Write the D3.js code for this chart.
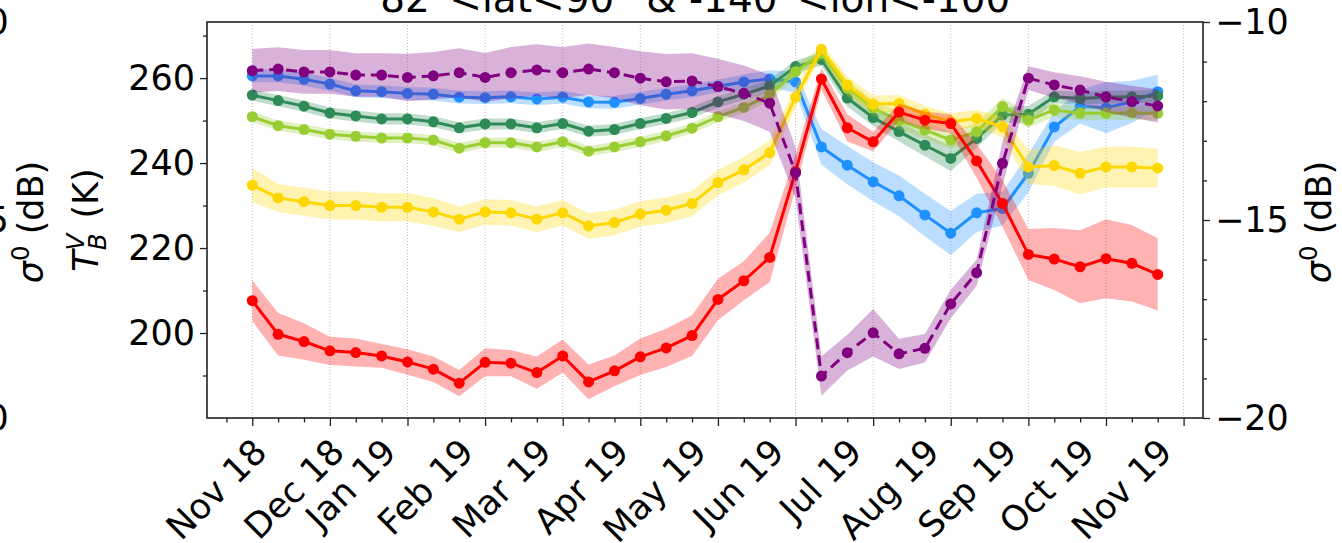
<!DOCTYPE html>
<html>
<head>
<meta charset="utf-8">
<script src="https://cdn.jsdelivr.net/npm/d3@7"></script>
<style>
  html, body { margin: 0; padding: 0; background: #fff; overflow: hidden; }
  svg { display: block; font-family: "DejaVu Sans", sans-serif; }
</style>
</head>
<body>
<svg id="chart" width="1342" height="543"></svg>
<script>
// ---- data: dekadal means (1st, 11th, 21st of each month), Nov 2018 - Oct 2019 ----
// time is measured in months since 1 Nov 2018
const dekadT = d3.range(36).map(i => i / 3);

const monthLabels = ["Nov 18", "Dec 18", "Jan 19", "Feb 19", "Mar 19", "Apr 19", "May 19",
                     "Jun 19", "Jul 19", "Aug 19", "Sep 19", "Oct 19", "Nov 19"];
const monthTicks = d3.range(13);
const labelAt = [1 / 3, 4 / 3, 2, 3, 4, 5, 6, 7, 8, 9, 10, 11, 12];

const tbTicks = [200, 220, 240, 260];
const tbMinor = [190, 210, 230, 250, 270];
const sigTicks = [-20, -15, -10];
const sigMinor = [-19, -18, -17, -16, -14, -13, -12, -11];

// brightness temperatures T_B^V (K)
const tbBlue = [260.5, 260.5, 259.7, 258.6, 257.0, 256.8, 256.4, 256.2, 255.5, 255.4, 255.6, 255.1,
                255.5, 254.4, 254.3, 255.2, 256.2, 257.0, 258.1, 259.1, 259.8, 259.1, 243.8, 239.5,
                235.6, 232.3, 227.8, 223.5, 228.3, 229.3, 237.6, 248.5, 253.3, 253.0, 254.4, 256.8];
const tbBlueSd = [1.5, 1.5, 1.5, 1.5, 1.5, 1.5, 1.5, 1.5, 1.5, 1.5, 1.5, 1.5,
                  1.5, 1.5, 1.5, 1.5, 1.5, 1.5, 1.5, 1.8, 2.0, 2.5, 4.2, 4.5,
                  4.6, 4.8, 5.0, 5.2, 4.5, 4.0, 4.5, 3.5, 4.0, 6.0, 5.0, 4.0];

const tbSea = [256.0, 254.7, 253.4, 251.8, 251.1, 250.4, 250.4, 249.7, 248.3, 249.2, 249.2, 248.3,
               249.3, 247.5, 247.9, 249.3, 250.5, 251.9, 254.4, 256.2, 258.1, 262.7, 264.4, 255.3,
               250.7, 247.4, 244.2, 241.1, 245.8, 251.3, 251.5, 255.6, 255.2, 255.5, 255.6, 255.8];
const tbSeaSd = [1.3, 1.3, 1.3, 1.3, 1.3, 1.3, 1.3, 1.3, 1.3, 1.3, 1.3, 1.3,
                 1.3, 1.3, 1.3, 1.3, 1.3, 1.3, 1.4, 1.4, 1.5, 1.5, 1.5, 2.0,
                 2.0, 2.3, 2.6, 3.0, 2.2, 1.8, 2.0, 1.5, 1.5, 1.5, 1.5, 1.5];

const tbLime = [250.9, 248.8, 247.9, 246.8, 246.3, 245.9, 245.9, 245.4, 243.5, 244.8, 244.8, 243.8,
                245.0, 242.8, 243.8, 245.0, 246.4, 248.2, 250.9, 253.1, 256.0, 261.5, 265.8, 257.6,
                253.0, 250.0, 247.8, 245.4, 247.4, 253.3, 250.1, 252.5, 251.7, 251.7, 251.8, 251.7];
const tbLimeSd = [1.2, 1.2, 1.2, 1.2, 1.2, 1.2, 1.2, 1.2, 1.2, 1.2, 1.2, 1.2,
                  1.2, 1.2, 1.2, 1.2, 1.2, 1.2, 1.3, 1.3, 1.4, 1.5, 1.5, 1.8,
                  1.8, 2.0, 2.0, 2.0, 2.0, 2.0, 1.8, 1.6, 1.6, 1.6, 1.6, 1.6];

const tbGold = [234.8, 231.8, 230.9, 230.0, 230.0, 229.6, 229.6, 228.5, 226.8, 228.5, 228.3, 226.8,
                228.3, 225.2, 226.0, 228.0, 228.9, 230.5, 235.4, 238.4, 242.4, 255.5, 266.8, 258.4,
                253.9, 254.0, 251.5, 249.7, 250.5, 248.5, 239.1, 239.4, 237.6, 239.1, 239.1, 238.8];
const tbGoldSd = [4.0, 3.3, 3.3, 3.3, 3.3, 3.3, 3.3, 3.3, 3.0, 3.0, 3.0, 3.0,
                  3.0, 3.0, 3.0, 3.0, 3.0, 3.0, 3.0, 3.0, 3.0, 2.5, 1.5, 2.0,
                  2.0, 2.0, 2.0, 2.0, 2.0, 2.5, 4.0, 4.8, 5.0, 4.8, 4.8, 4.5];

const tbRed = [207.6, 199.7, 198.0, 195.8, 195.4, 194.6, 193.2, 191.5, 188.2, 193.1, 192.9, 190.7,
               194.6, 188.5, 191.1, 194.4, 196.5, 199.4, 207.9, 212.3, 217.8, 238.0, 259.8, 248.3,
               245.0, 252.0, 250.1, 249.3, 240.5, 230.5, 218.5, 217.4, 215.6, 217.5, 216.4, 213.8];
const tbRedSd = [4.8, 5.0, 4.3, 3.3, 3.3, 2.8, 3.0, 3.0, 3.1, 3.3, 3.1, 3.8,
                 3.9, 4.1, 3.6, 4.3, 4.5, 4.8, 4.9, 4.6, 5.8, 4.0, 2.5, 3.2,
                 2.3, 2.0, 2.0, 2.2, 4.0, 5.5, 6.0, 7.3, 8.6, 9.3, 9.0, 8.5];

// backscatter sigma0 (dB), right axis
const sigma0 = [-11.23, -11.19, -11.26, -11.26, -11.34, -11.34, -11.40, -11.36, -11.28, -11.40, -11.28, -11.21,
                -11.28, -11.19, -11.28, -11.42, -11.51, -11.49, -11.63, -11.80, -12.05, -13.81, -18.94, -18.35,
                -17.85, -18.38, -18.24, -17.12, -16.33, -13.57, -11.42, -11.59, -11.72, -11.89, -12.01, -12.12];
const sigma0Sd = [0.55, 0.55, 0.55, 0.55, 0.55, 0.55, 0.6, 0.6, 0.62, 0.62, 0.65, 0.65,
                  0.65, 0.65, 0.65, 0.68, 0.7, 0.7, 0.7, 0.7, 0.72, 0.65, 0.5, 0.45,
                  0.6, 0.38, 0.36, 0.36, 0.33, 0.55, 0.3, 0.32, 0.35, 0.38, 0.4, 0.42];

// ---- layout ----
const svg = d3.select("#chart");
const frame = { left: 207, right: 1203, top: 22, bottom: 418 };
const fontSize = 35;
const ink = "#222";

const x = d3.scaleLinear().domain([-7 / 12, 12.25]).range([frame.left, frame.right]);
const yT = d3.scaleLinear().domain([180, 273.2]).range([frame.bottom, frame.top]);
const yS = d3.scaleLinear().domain([-20, -10]).range([frame.bottom, frame.top]);

svg.append("defs").append("clipPath").attr("id", "plotClip")
  .append("rect")
  .attr("x", frame.left).attr("y", frame.top)
  .attr("width", frame.right - frame.left).attr("height", frame.bottom - frame.top);

// vertical dotted grid at month starts
svg.append("g")
  .selectAll("line")
  .data(monthTicks)
  .join("line")
  .attr("x1", d => x(d)).attr("x2", d => x(d))
  .attr("y1", frame.top).attr("y2", frame.bottom)
  .attr("stroke", "#b5b5b5").attr("stroke-width", 0.9)
  .attr("stroke-dasharray", "1,2");

// ---- series ----
const leftSeries = [
  { values: tbBlue, sd: tbBlueSd, color: "#1E90FF" },
  { values: tbSea, sd: tbSeaSd, color: "#2E8B57" },
  { values: tbLime, sd: tbLimeSd, color: "#9ACD32" },
  { values: tbGold, sd: tbGoldSd, color: "#FFD700" },
  { values: tbRed, sd: tbRedSd, color: "#FF0000" }
];
const rightSeries = { values: sigma0, sd: sigma0Sd, color: "#800080", dash: "11,6" };

const plotArea = svg.append("g").attr("clip-path", "url(#plotClip)");

function drawSeries(s, y) {
  const g = plotArea.append("g");
  const idx = d3.range(s.values.length);
  const area = d3.area()
    .x(i => x(dekadT[i]))
    .y0(i => y(s.values[i] - s.sd[i]))
    .y1(i => y(s.values[i] + s.sd[i]));
  g.append("path").attr("d", area(idx))
    .attr("fill", s.color).attr("fill-opacity", 0.3).attr("stroke", "none");
  const line = d3.line().x(i => x(dekadT[i])).y(i => y(s.values[i]));
  g.append("path").attr("d", line(idx))
    .attr("fill", "none").attr("stroke", s.color).attr("stroke-width", 3)
    .attr("stroke-linejoin", "round")
    .attr("stroke-dasharray", s.dash || null);
  g.selectAll("circle").data(idx).join("circle")
    .attr("cx", i => x(dekadT[i])).attr("cy", i => y(s.values[i]))
    .attr("r", 5.5).attr("fill", s.color);
}
leftSeries.forEach(s => drawSeries(s, yT));
drawSeries(rightSeries, yS);

// ---- axes ----
function styleAxis(g) {
  g.select(".domain").remove();
  g.selectAll(".tick line").attr("stroke", ink).attr("stroke-width", 1.3);
  g.selectAll(".tick text").attr("fill", "#000")
    .attr("font-size", fontSize).attr("font-family", "DejaVu Sans, sans-serif");
}

// bottom: major, minor ticks and rotated month labels
svg.append("g").attr("transform", `translate(0,${frame.bottom})`)
  .call(d3.axisBottom(x).tickValues(monthTicks).tickSize(8).tickFormat(""))
  .call(styleAxis);
svg.append("g").attr("transform", `translate(0,${frame.bottom})`)
  .call(d3.axisBottom(x)
    .tickValues(d3.range(-1, 37).filter(k => k % 3 !== 0).map(k => k / 3))
    .tickSize(4.5).tickFormat(""))
  .call(styleAxis);
const xLab = svg.append("g").attr("transform", `translate(0,${frame.bottom})`)
  .call(d3.axisBottom(x).tickValues(labelAt).tickSize(0)
    .tickFormat((d, i) => monthLabels[i]))
  .call(styleAxis);
xLab.selectAll(".tick line").remove();
xLab.selectAll(".tick text")
  .attr("y", 0).attr("dy", 0)
  .attr("text-anchor", "end")
  .attr("transform", "translate(-10,36) rotate(-45)");

// left: T_B axis
svg.append("g").attr("transform", `translate(${frame.left},0)`)
  .call(d3.axisLeft(yT).tickValues(tbTicks).tickSize(7).tickPadding(5))
  .call(styleAxis);
svg.append("g").attr("transform", `translate(${frame.left},0)`)
  .call(d3.axisLeft(yT).tickValues(tbMinor).tickSize(4).tickFormat(""))
  .call(styleAxis);

// right: sigma0 axis (this panel) and the neighbouring panel's axis at the left edge
const panelPitch = 1280;
function sigmaAxis(xPos, withTicks, labelGap) {
  const g = svg.append("g").attr("transform", `translate(${xPos},0)`);
  g.call(d3.axisRight(yS).tickValues(sigTicks).tickSize(7).tickPadding(5)
      .tickFormat(d => (d < 0 ? "\u2212" : "") + Math.abs(d)))
    .call(styleAxis);
  if (withTicks) {
    svg.append("g").attr("transform", `translate(${xPos},0)`)
      .call(d3.axisRight(yS).tickValues(sigMinor).tickSize(4).tickFormat(""))
      .call(styleAxis);
  }
  const lab = svg.append("text")
    .attr("transform", `translate(${xPos + labelGap},${(frame.top + frame.bottom) / 2 + 2}) rotate(-90)`)
    .attr("text-anchor", "middle").attr("font-size", fontSize).attr("fill", "#000");
  lab.append("tspan").attr("font-style", "italic").text("\u03C3");
  lab.append("tspan").attr("font-size", fontSize * 0.7).attr("dy", -14).text("0");
  lab.append("tspan").attr("dy", 14).text(" (dB)");
}
sigmaAxis(frame.right, true, 128);
sigmaAxis(frame.right - panelPitch, false, 120);

// left y label: T_B^V (K)
const tbLab = svg.append("text")
  .attr("transform", `translate(98,${(frame.top + frame.bottom) / 2}) rotate(-90)`)
  .attr("text-anchor", "middle").attr("font-size", fontSize).attr("fill", "#000");
tbLab.append("tspan").attr("font-style", "italic").text("T");
tbLab.append("tspan").attr("font-style", "italic").attr("font-size", fontSize * 0.7)
  .attr("dy", 8).text("B");
tbLab.append("tspan").attr("font-style", "italic").attr("font-size", fontSize * 0.7)
  .attr("dx", -17).attr("dy", -22).text("V");
tbLab.append("tspan").attr("dy", 14).attr("dx", 4).text(" (K)");

// spines
svg.append("rect")
  .attr("x", frame.left).attr("y", frame.top)
  .attr("width", frame.right - frame.left).attr("height", frame.bottom - frame.top)
  .attr("fill", "none").attr("stroke", ink).attr("stroke-width", 1.6);

// title
svg.append("text")
  .attr("x", (frame.left + frame.right) / 2).attr("y", 11.5)
  .attr("text-anchor", "middle").attr("font-size", 39).attr("fill", "#000")
  .text("82°<lat<90° & -140°<lon<-100°");
</script>
</body>
</html>
